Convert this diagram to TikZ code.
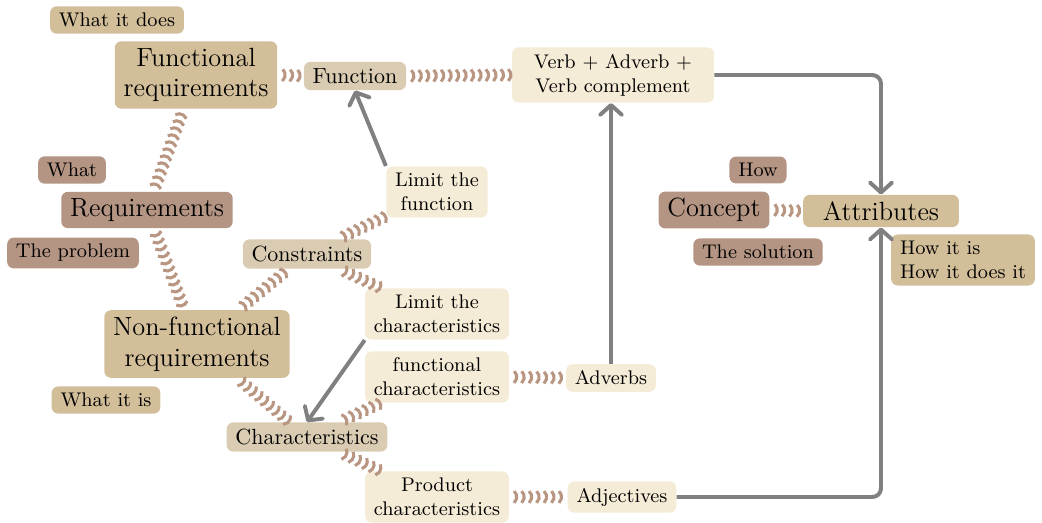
\documentclass[tikz,border=0pt]{standalone}
\usepackage{amsmath}
\usepackage{tikz}
\usetikzlibrary{decorations.pathreplacing,arrows.meta}

\definecolor{darkbrown}{RGB}{180,148,130}
\definecolor{tanbox}{RGB}{210,190,152}
\definecolor{lighttan}{RGB}{218,204,178}
\definecolor{cream}{RGB}{245,236,215}
\definecolor{wavecol}{RGB}{185,150,130}

\tikzset{
  box/.style={rounded corners=3pt, inner xsep=4pt, inner ysep=3pt, align=center},
  top/.style={box, fill=darkbrown, font=\large},
  main/.style={box, fill=tanbox, font=\large},
  mid/.style={box, fill=lighttan},
  leaf/.style={box, fill=cream, font=\small},
  darknote/.style={box, fill=darkbrown, font=\small},
  note/.style={box, fill=tanbox, font=\small},
  wave/.style={draw=wavecol, line width=1.4pt, decorate,
    decoration={waves, radius=3.6pt, segment length=3.4pt, angle=48}},
  link/.style={draw=gray, line width=1.8pt, rounded corners=4pt,
    -{Straight Barb[length=4.5pt,width=10pt,round]}},
}

\begin{document}
\begin{tikzpicture}[x=0.016cm, y=-0.016cm]
		\useasboundingbox (0,0) rectangle (1042,522);
		% left side: requirements
		\node[note] (doesnote) at (117,20) {What it does};
		\node[main] (freq) at (196,75) {Functional\\requirements};
		\node[mid] (func) at (355,76) {Function};
		\node[leaf, inner xsep=10pt] (verb) at (613,75) {Verb + Adverb +\\Verb complement};
		\node[darknote] (whatnote) at (72,170) {What};
		\node[top] (req) at (147,210) {Requirements};
		\node[darknote] (probnote) at (73,253) {The problem};
		\node[leaf] (limfunc) at (437,192) {Limit the\\function};
		\node[mid] (cons) at (307,254) {Constraints};
		\node[leaf] (limchar) at (437,314) {Limit the\\characteristics};
		\node[main] (nfreq) at (197,344) {Non-functional\\requirements};
		\node[note] (isnote) at (106,400) {What it is};
		\node[leaf] (fchar) at (437,377) {functional\\characteristics};
		\node[leaf] (adv) at (611,378) {Adverbs};
		\node[mid] (chars) at (307,437) {Characteristics};
		\node[leaf] (pchar) at (437,497) {Product\\characteristics};
		\node[leaf] (adj) at (622,497) {Adjectives};
		% right side: concept
		\node[darknote] (hownote) at (758,170) {How};
		\node[top] (concept) at (714,210) {Concept};
		\node[main, inner xsep=9pt] (attr) at (881,211) {Attributes};
		\node[darknote] (solnote) at (758,252) {The solution};
		\node[note, align=left] (hownote2) at (963,260) {How it is\\How it does it};

		% waves
		\draw[wave] (freq.east) -- (func.west);
		\draw[wave] (func.east) -- (verb.west);
		\draw[wave] (req) -- (freq);
		\draw[wave] (req) -- (nfreq);
		\draw[wave] (nfreq) -- (cons);
		\draw[wave] (cons) -- (limfunc);
		\draw[wave] (cons) -- (limchar);
		\draw[wave] (nfreq) -- (chars);
		\draw[wave] (chars) -- (fchar);
		\draw[wave] (chars) -- (pchar);
		\draw[wave] (fchar.east) -- (adv.west);
		\draw[wave] (pchar.east) -- (adj.west);
		\draw[wave] (concept.east) -- (attr.west);

		% arrows
		\draw[link] (limfunc.north west) -- (func.south);
		\draw[link] (limchar.south west) -- (chars.north);
		\draw[link] (adv.north) -- (adv.north |- verb.south);
		\draw[link] (verb.east) -- (attr.north |- verb.east) -- (attr.north);
		\draw[link] (adj.east) -- (attr.south |- adj.east) -- (attr.south);
	\end{tikzpicture}
\end{document}
